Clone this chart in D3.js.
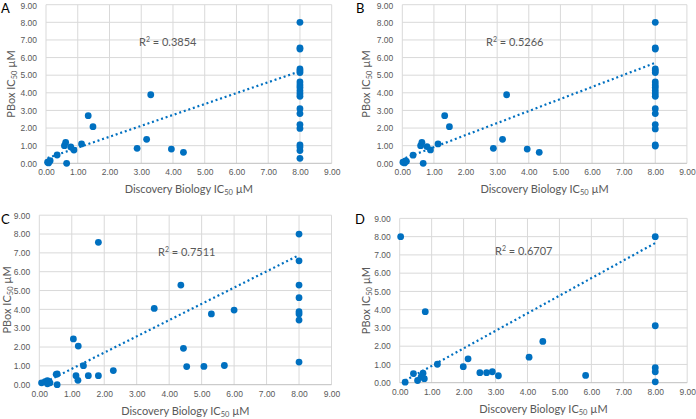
<!DOCTYPE html>
<html>
<head>
<meta charset="utf-8">
<script src="https://cdn.jsdelivr.net/npm/d3@7"></script>
<style>
  body { margin: 0; background: #fff; }
  svg { display: block; font-family: Lato, "Open Sans", sans-serif; }
</style>
</head>
<body>
<div id="chart"></div>
<script>
// values
var panelLetters = ['A', 'B', 'C', 'D'];
var r2Labels = ['0.3854', '0.5266', '0.7511', '0.6707'];
var tickValues = [0, 1, 2, 3, 4, 5, 6, 7, 8, 9];

var aPoints = [
    [0.05, 0.06], [0.1, 0.1], [0.13, 0.15], [0.08, 0.02], [0.35, 0.47], [0.65, 0.0],
    [0.58, 1.0], [0.62, 1.19], [0.78, 0.93], [0.88, 0.75], [1.12, 1.1], [1.33, 2.7],
    [1.48, 2.08], [2.87, 0.85], [3.17, 1.36], [3.3, 3.89], [3.95, 0.81], [4.33, 0.62],
    [8, 8.0], [8, 6.55], [8, 6.48], [8, 5.35], [8, 5.25], [8, 5.15], [8, 4.62], [8, 4.45],
    [8, 4.3], [8, 4.12], [8, 3.95], [8, 3.8], [8, 3.1], [8, 2.82], [8, 2.2], [8, 1.98],
    [8, 1.05], [8, 0.92], [8, 0.72], [8, 0.28]
];
var bPoints = [
    [0.02, 0.06], [0.07, 0.02], [0.13, 0.11], [0.1, 0.13], [0.34, 0.46], [0.58, 1.0],
    [0.62, 1.19], [0.78, 0.95], [0.89, 0.76], [0.66, 0.0], [1.13, 1.1], [1.34, 2.7],
    [1.49, 2.08], [2.88, 0.85], [3.17, 1.36], [3.3, 3.89], [3.95, 0.81], [4.33, 0.62],
    [8, 8.0], [8, 6.55], [8, 6.48], [8, 5.35], [8, 5.25], [8, 5.15], [8, 4.62], [8, 4.45],
    [8, 4.3], [8, 4.12], [8, 3.95], [8, 3.8], [8, 3.1], [8, 2.82], [8, 2.2], [8, 1.95],
    [8, 1.05], [8, 0.98]
];
var cPoints = [
    [0.07, 0.1], [0.18, 0.16], [0.25, 0.21], [0.28, 0.16], [0.33, 0.1], [0.25, 0.05],
    [0.55, 0.57], [0.52, 0.55], [0.55, 0.0], [1.05, 2.43], [1.2, 2.05], [1.36, 1.01],
    [1.13, 0.48], [1.19, 0.23], [1.51, 0.48], [1.82, 0.48], [1.82, 7.56], [2.28, 0.75],
    [3.54, 4.05], [4.36, 5.29], [4.44, 1.93], [4.54, 0.96], [5.07, 0.97], [5.3, 3.76],
    [5.7, 1.02], [6.0, 3.96], [8, 8.0], [8, 6.58], [8, 5.29], [8, 4.62], [8, 3.88],
    [8, 3.76], [8, 3.43], [8, 1.2]
];
var dPoints = [
    [0.03, 8.0], [0.17, 0.03], [0.43, 0.5], [0.56, 0.12], [0.67, 0.32], [0.73, 0.52],
    [0.77, 0.22], [0.8, 3.89], [1.18, 1.01], [1.99, 0.88], [2.14, 1.31], [2.51, 0.55],
    [2.72, 0.55], [2.9, 0.6], [3.09, 0.38], [4.05, 1.4], [4.48, 2.26], [5.82, 0.4],
    [8, 8.0], [8, 3.12], [8, 0.82], [8, 0.6], [8, 0.05]
];
// linear trendlines, start and end (x, y)
var trendLines = [
    [0.05, 0.3, 8, 5.22],
    [0.1, 0.3, 8, 5.7],
    [0.2, 0.15, 8, 6.88],
    [0.17, 0.12, 8, 7.65]
];

var allPoints = [aPoints, bPoints, cPoints, dPoints];

var width = 696;
var height = 419;

// plot area of each panel
var frames = [
    { left: 46, right: 331.7, top: 4.7, bottom: 163.3, yTitle: 31, letterX: 1, letterY: 13 },
    { left: 402.3, right: 686.9, top: 4.7, bottom: 163.3, yTitle: 32, letterX: 356, letterY: 13 },
    { left: 39.3, right: 331.5, top: 215.2, bottom: 384.7, yTitle: 28, letterX: 1, letterY: 224 },
    { left: 399.7, right: 687.2, top: 218.4, bottom: 382.7, yTitle: 30, letterX: 355, letterY: 224 }
];
var r2Pos = [[139, 46], [486, 46], [158, 256], [495, 255]];

var svg = d3.select('#chart')
    .append('svg')
    .attr('width', width)
    .attr('height', height);

var blue = '#0070c0';
var gray = '#595959';
var fmt = d3.format('.2f');

frames.forEach(function(f, i) {
    var x = d3.scaleLinear().domain([0, 9]).range([f.left, f.right]);
    var y = d3.scaleLinear().domain([0, 9]).range([f.bottom, f.top]);
    var g = svg.append('g');

    // gridlines
    g.append('g')
        .selectAll('line.v')
        .data(tickValues)
        .enter()
        .append('line')
        .attr('x1', d => x(d)).attr('x2', d => x(d))
        .attr('y1', f.top).attr('y2', f.bottom)
        .attr('stroke', '#d9d9d9')
        .attr('stroke-width', 1);
    g.append('g')
        .selectAll('line.h')
        .data(tickValues)
        .enter()
        .append('line')
        .attr('x1', f.left).attr('x2', f.right)
        .attr('y1', d => y(d)).attr('y2', d => y(d))
        .attr('stroke', d => d === 0 ? '#bfbfbf' : '#d9d9d9')
        .attr('stroke-width', 1);

    // x axis labels
    var xa = g.append('g')
        .attr('transform', `translate(0, ${f.bottom})`)
        .call(d3.axisBottom(x).tickValues(tickValues).tickFormat(fmt).tickSize(0).tickPadding(6));
    xa.select('.domain').remove();
    xa.selectAll('text').attr('fill', gray).style('font-size', '8.5px');

    // y axis labels
    var ya = g.append('g')
        .attr('transform', `translate(${f.left}, 0)`)
        .call(d3.axisLeft(y).tickValues(tickValues).tickFormat(fmt).tickSize(0).tickPadding(9));
    ya.select('.domain').remove();
    ya.selectAll('text').attr('fill', gray).style('font-size', '8.5px')
        .attr('dy', d => d === 9 ? '0.4em' : '0.32em');

    // trendline
    var t = trendLines[i];
    g.append('line')
        .attr('x1', x(t[0])).attr('y1', y(t[1]))
        .attr('x2', x(t[2])).attr('y2', y(t[3]))
        .attr('stroke', blue)
        .attr('stroke-width', 2.2)
        .attr('stroke-dasharray', '2,2.8');

    // points
    g.append('g')
        .selectAll('circle')
        .data(allPoints[i])
        .enter()
        .append('circle')
        .attr('cx', d => x(d[0]))
        .attr('cy', d => y(d[1]))
        .attr('r', 3.4)
        .attr('fill', blue);

    // R squared
    var r = g.append('text')
        .attr('x', r2Pos[i][0])
        .attr('y', r2Pos[i][1])
        .attr('fill', gray)
        .style('font-size', '11px');
    r.append('tspan').text('R');
    r.append('tspan').attr('dy', -4).style('font-size', '7px').text('2');
    r.append('tspan').attr('dy', 4).text(' = ' + r2Labels[i]);

    // x title
    var xt = g.append('text')
        .attr('x', (f.left + f.right) / 2)
        .attr('y', f.bottom + 30)
        .attr('text-anchor', 'middle')
        .attr('fill', gray)
        .style('font-size', '11px');
    xt.append('tspan').text('Discovery Biology IC');
    xt.append('tspan').attr('dy', 2).style('font-size', '7.5px').text('50');
    xt.append('tspan').attr('dy', -2).text(' \u00b5M');

    // y title
    var yt = g.append('text')
        .attr('transform', `translate(${f.left - f.yTitle}, ${(f.top + f.bottom) / 2}) rotate(-90)`)
        .attr('text-anchor', 'middle')
        .attr('fill', gray)
        .style('font-size', '11px');
    yt.append('tspan').text('PBox IC');
    yt.append('tspan').attr('dy', 2).style('font-size', '7.5px').text('50');
    yt.append('tspan').attr('dy', -2).text(' \u00b5M');

    // panel letter
    g.append('text')
        .attr('x', f.letterX)
        .attr('y', f.letterY)
        .attr('fill', '#000')
        .style('font-size', '13px')
        .text(panelLetters[i]);
});
</script>
</body>
</html>
